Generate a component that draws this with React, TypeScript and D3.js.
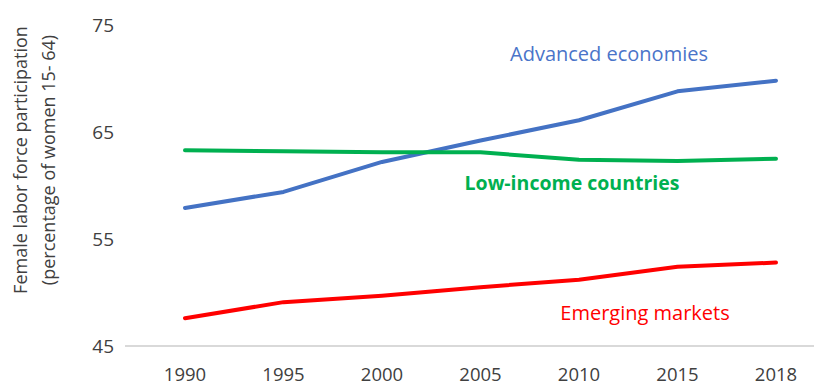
import React from "react";
import * as d3 from "d3";

const years = ["1990", "1995", "2000", "2005", "2010", "2015", "2018"];
const advanced = [57.9, 59.4, 62.2, 64.2, 66.1, 68.8, 69.8];
const lowIncome = [63.3, 63.2, 63.1, 63.1, 62.4, 62.3, 62.5];
const emerging = [47.6, 49.1, 49.7, 50.5, 51.2, 52.4, 52.8];
const yTicks = [45, 55, 65, 75];

const W = 814;
const H = 387;
const FONT = "'Open Sans', 'Noto Sans', sans-serif";

export default function App() {
  const x = d3.scalePoint<string>().domain(years).range([185, 776]);
  const y = d3.scaleLinear().domain([45, 75]).range([346, 25]);
  const line = d3
    .line<number>()
    .x((_, i) => x(years[i]) as number)
    .y((d) => y(d))
    .curve(d3.curveLinear);

  const series = [
    { name: "Advanced economies", values: advanced, color: "#4472C4" },
    { name: "Low-income countries", values: lowIncome, color: "#00B050" },
    { name: "Emerging markets", values: emerging, color: "#FF0000" },
  ];

  return (
    <svg
      width={W}
      height={H}
      style={{ position: "absolute", left: 0, top: 0, background: "#fff" }}
      fontFamily={FONT}
    >
      <line x1={125} x2={814} y1={y(45)} y2={y(45)} stroke="#d9d9d9" strokeWidth={2} />
      {yTicks.map((t) => (
        <text
          key={t}
          x={114}
          y={y(t)}
          textAnchor="end"
          dominantBaseline="central"
          fontSize={19}
          fill="#404040"
        >
          {t}
        </text>
      ))}
      {years.map((yr) => (
        <text
          key={yr}
          x={x(yr)}
          y={380.5}
          textAnchor="middle"
          fontSize={18.5}
          fill="#404040"
        >
          {yr}
        </text>
      ))}
      <g transform="translate(20,160) rotate(-90)">
        <text textAnchor="middle" dominantBaseline="central" fontSize={18} fill="#404040">
          Female labor force participation
        </text>
      </g>
      <g transform="translate(48,160) rotate(-90)">
        <text textAnchor="middle" dominantBaseline="central" fontSize={18} fill="#404040">
          (percentage of women 15- 64)
        </text>
      </g>
      {series.map((s) => (
        <path
          key={s.name}
          d={line(s.values) || ""}
          fill="none"
          stroke={s.color}
          strokeWidth={4}
          strokeLinecap="round"
          strokeLinejoin="round"
        />
      ))}
      <text x={609} y={53} textAnchor="middle" dominantBaseline="central" fontSize={20} fill="#4A74C9">
        Advanced economies
      </text>
      <text
        x={572}
        y={182}
        textAnchor="middle"
        dominantBaseline="central"
        fontSize={19.5}
        fontWeight="bold"
        fill="#00B050"
      >
        Low-income countries
      </text>
      <text x={645} y={312} textAnchor="middle" dominantBaseline="central" fontSize={20} fill="#FF0000">
        Emerging markets
      </text>
    </svg>
  );
}
